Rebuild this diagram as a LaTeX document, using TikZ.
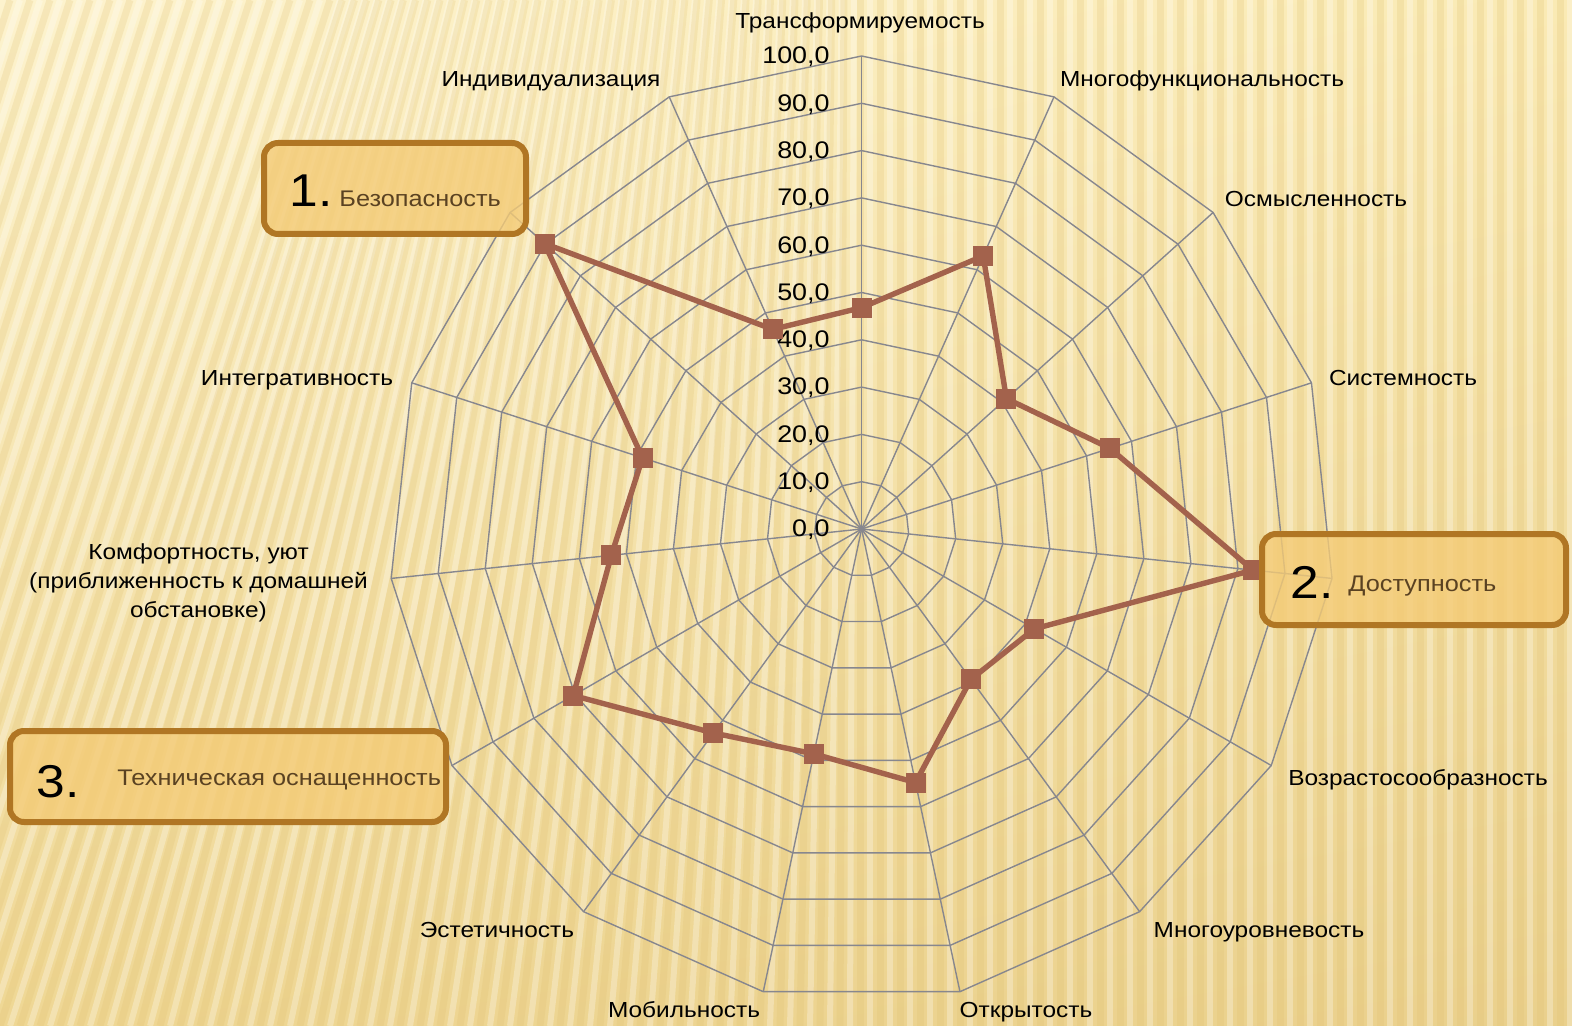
\documentclass[tikz,border=0pt]{standalone}
\usepackage{fontspec}
\setmainfont{Liberation Sans}[FakeStretch=1.12]
\usetikzlibrary{calc,shadings}
\definecolor{bgUL}{RGB}{253,243,206}
\definecolor{bgUR}{RGB}{250,234,180}
\definecolor{bgLL}{RGB}{239,215,148}
\definecolor{bgLR}{RGB}{234,208,140}
\definecolor{stripeC}{RGB}{222,190,110}
\definecolor{gridC}{RGB}{135,135,142}
\definecolor{dataC}{RGB}{163,98,76}
\definecolor{boxFill}{RGB}{244,203,118}
\definecolor{boxLine}{RGB}{176,118,36}
\definecolor{boxText}{RGB}{90,66,34}
\tikzset{
  stripe/.style={draw=stripeC, line width=3.5pt, opacity=0.22},
  stripelight/.style={draw=white, line width=3pt, opacity=0.28},
  gridline/.style={draw=gridC, line width=0.7pt},
  dataline/.style={draw=dataC, line width=2.7pt, line join=round},
  marker/.style={rectangle, fill=dataC, minimum size=10pt, inner sep=0pt},
  axlabel/.style={anchor=base, font=\fontsize{10.9}{14.5}\selectfont, inner sep=0pt},
  ticklabel/.style={anchor=east, font=\fontsize{12}{14}\selectfont, inner sep=0pt},
  callout/.style={draw=boxLine, line width=3pt, rounded corners=7pt, fill=boxFill, fill opacity=0.8, inner sep=0pt},
  bignum/.style={anchor=base west, font=\fontsize{23}{26}\selectfont, inner sep=0pt},
  boxlabel/.style={anchor=base west, font=\fontsize{11.3}{13}\selectfont, text=boxText, inner sep=0pt},
}
\begin{document}
\begin{tikzpicture}[x=0.5pt,y=-0.5pt]
\useasboundingbox (0,0) rectangle (1572,1026);
% background
\shade[upper left=bgUL, upper right=bgUR, lower left=bgLL, lower right=bgLR] (0,0) rectangle (1572,1026);
\begin{scope}
\clip (0,0) rectangle (1572,1026);
\foreach \i in {0,...,96} {
  \pgfmathsetmacro\xb{-320+\i*20}
  \pgfmathsetmacro\off{max(0,330*(1-max(\xb,0)/850))}
  \draw[stripe] (\xb+\off,0) -- (\xb,1026);
  \draw[stripelight] (\xb+\off+10,0) -- (\xb+10,1026);
}
\end{scope}
% grid
\coordinate (C) at (861.6,529);
\foreach \k in {1,...,10}
  \draw[gridline] plot[samples at={0,24,...,336}] ({861.6+47.3*\k*sin(\x)},{529-47.3*\k*cos(\x)}) -- cycle;
\foreach \a [count=\j from 0] in {0,24,...,336} {
  \coordinate (e\j) at ({861.6+473*sin(\a)},{529-473*cos(\a)});
  \draw[gridline] (C) -- (e\j);
}
% tick labels
\foreach \k/\lab in {0/{0,0},1/{10,0},2/{20,0},3/{30,0},4/{40,0},5/{50,0},6/{60,0},7/{70,0},8/{80,0},9/{90,0},10/{100,0}}
  \node[ticklabel] (t\k) at (830,{530-47.3*\k}) {\lab};
% data
\foreach \v [count=\i from 0] in {46.8,63.2,41.2,55.2,83.2,42.2,39.3,54.8,48.6,53.3,70.4,53.2,48.7,90.2,46.2}
  \coordinate (p\i) at ({861.6+4.73*\v*sin(24*\i)},{529-4.73*\v*cos(24*\i)});
\draw[dataline] (p0) -- (p1) -- (p2) -- (p3) -- (p4) -- (p5) -- (p6) -- (p7) -- (p8) -- (p9) -- (p10) -- (p11) -- (p12) -- (p13) -- (p14) -- cycle;
\foreach \i in {0,...,14}
  \node[marker] (m\i) at (p\i) {};
% axis labels
\node[axlabel] (l0) at (860,29) {Трансформируемость};
\node[axlabel] (l1) at (1202,87) {Многофункциональность};
\node[axlabel] (l2) at (1316,207) {Осмысленность};
\node[axlabel] (l3) at (1403,386) {Системность};
\node[axlabel] (l5) at (1418,785) {Возрастосообразность};
\node[axlabel] (l6) at (1259,937) {Многоуровневость};
\node[axlabel] (l7) at (1026,1017) {Открытость};
\node[axlabel] (l8) at (684,1017) {Мобильность};
\node[axlabel] (l9) at (497,937) {Эстетичность};
\node[axlabel, anchor=center, align=center] (l11) at (198.5,583) {Комфортность, уют\\(приближенность к домашней\\обстановке)};
\node[axlabel] (l12) at (297,385) {Интегративность};
\node[axlabel] (l14) at (551,87) {Индивидуализация};
% callout boxes
\node[callout, minimum width=131pt, minimum height=45.5pt] (box1) at (395,188.5) {};
\node[bignum] (n1) at (289,207) {1.};
\node[boxlabel] (b1) at (339,207) {Безопасность};
\node[callout, minimum width=152pt, minimum height=45.5pt] (box2) at (1414,579.5) {};
\node[bignum] (n2) at (1290,598) {2.};
\node[boxlabel] (b2) at (1348,591) {Доступность};
\node[callout, minimum width=218pt, minimum height=45.5pt] (box3) at (228,776.5) {};
\node[bignum] (n3) at (36,797) {3.};
\node[boxlabel] (b3) at (117,785) {Техническая оснащенность};
\end{tikzpicture}
\end{document}
